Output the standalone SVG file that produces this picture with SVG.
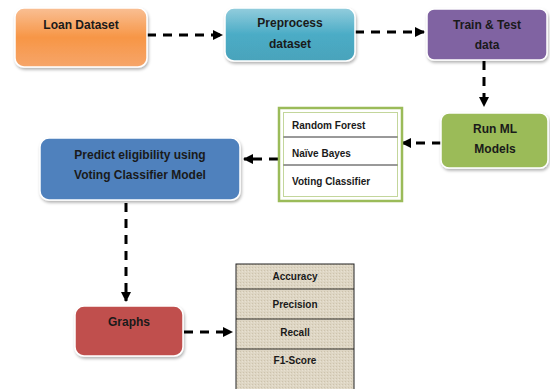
<svg xmlns="http://www.w3.org/2000/svg" width="550" height="389" viewBox="0 0 550 389">
<defs>
<linearGradient id="gOrange" x1="0" y1="0" x2="0" y2="1"><stop offset="0" stop-color="#f9bf94"/><stop offset="0.5" stop-color="#f79646"/><stop offset="1" stop-color="#f6a56a"/></linearGradient>
<linearGradient id="gTeal" x1="0" y1="0" x2="0" y2="1"><stop offset="0" stop-color="#93cddd"/><stop offset="0.5" stop-color="#4bacc6"/><stop offset="1" stop-color="#4aa3bb"/></linearGradient>
<marker id="ah" viewBox="0 0 10 10" refX="9" refY="5" markerWidth="3.4" markerHeight="3.4" orient="auto" markerUnits="strokeWidth"><path d="M0,0 L10,5 L0,10 z" fill="#000"/></marker>
<filter id="sh" x="-10%" y="-10%" width="125%" height="130%"><feDropShadow dx="1" dy="2" stdDeviation="1.5" flood-color="#000" flood-opacity="0.3"/></filter>
<pattern id="tex" width="3" height="3" patternUnits="userSpaceOnUse"><rect width="3" height="3" fill="#ded6c4"/><rect x="0" y="0" width="1" height="1" fill="#cdc3ad"/><rect x="2" y="1" width="1" height="1" fill="#e8e1d2"/></pattern>
</defs>
<style>
.box{stroke:#fff;stroke-width:1.5;filter:url(#sh)}
.t{font-family:"Liberation Sans",Arial,sans-serif;font-weight:bold;font-size:12px;fill:#1a1a1a;text-anchor:middle}
.s{font-family:"Liberation Sans",Arial,sans-serif;font-weight:bold;font-size:10px;fill:#1a1a1a}
.m{font-family:"Liberation Sans",Arial,sans-serif;font-weight:bold;font-size:10px;fill:#1a1a1a;text-anchor:middle}
.c{fill:none;stroke:#000;stroke-width:3;stroke-dasharray:9,7;marker-end:url(#ah)}
.ln{stroke:#000;stroke-width:0.8}
</style>
<rect width="550" height="389" fill="#fff"/>
<g id="connectors">
<path class="c" d="M147,35 H222"/>
<path class="c" d="M355,32 H424"/>
<path class="c" d="M484,61 V106"/>
<path class="c" d="M441,143 H402"/>
<path class="c" d="M278,159 H244"/>
<path class="c" d="M126,203 V301"/>
<path class="c" d="M184,332 H232"/>
</g>
<g id="loan">
<rect class="box" x="15" y="8" width="132" height="59" rx="9" fill="url(#gOrange)"/>
<text class="t" x="81" y="29">Loan Dataset</text>
</g>
<g id="preprocess">
<rect class="box" x="225" y="8" width="130" height="53" rx="9" fill="url(#gTeal)"/>
<text class="t" x="290" y="27">Preprocess</text>
<text class="t" x="290" y="48">dataset</text>
</g>
<g id="traintest">
<rect class="box" x="427" y="9" width="120" height="51" rx="7" fill="#8064a2"/>
<text class="t" x="487" y="29">Train &amp; Test</text>
<text class="t" x="487" y="49">data</text>
</g>
<g id="runml">
<rect class="box" x="441" y="113" width="107" height="55" rx="8" fill="#9bbb59"/>
<text class="t" x="495" y="133">Run ML</text>
<text class="t" x="495" y="153">Models</text>
</g>
<g id="models">
<rect x="279" y="108" width="123" height="93" fill="#fff" stroke="#9bbb59" stroke-width="2.5"/>
<rect x="283.5" y="112.5" width="114" height="84" fill="#fff" stroke="#c3d69b" stroke-width="1"/>
<line class="ln" x1="283.5" y1="137" x2="397.5" y2="137"/>
<line class="ln" x1="283.5" y1="165" x2="397.5" y2="165"/>
<text class="s" x="292" y="129">Random Forest</text>
<text class="s" x="292" y="157">Naïve Bayes</text>
<text class="s" x="292" y="185">Voting Classifier</text>
</g>
<g id="predict">
<rect class="box" x="40" y="138" width="200" height="62" rx="9" fill="#4f81bd"/>
<text class="t" x="140" y="159">Predict eligibility using</text>
<text class="t" x="140" y="179">Voting Classifier Model</text>
</g>
<g id="graphs">
<rect class="box" x="75" y="306" width="108" height="50" rx="9" fill="#c0504d"/>
<text class="t" x="129" y="326">Graphs</text>
</g>
<g id="metrics">
<rect x="236" y="264" width="118" height="130" fill="url(#tex)" stroke="#222" stroke-width="1"/>
<line class="ln" x1="236" y1="289" x2="354" y2="289"/>
<line class="ln" x1="236" y1="319" x2="354" y2="319"/>
<line class="ln" x1="236" y1="349" x2="354" y2="349"/>
<text class="m" x="295" y="280">Accuracy</text>
<text class="m" x="295" y="308">Precision</text>
<text class="m" x="295" y="336">Recall</text>
<text class="m" x="295" y="364">F1-Score</text>
</g>
</svg>
